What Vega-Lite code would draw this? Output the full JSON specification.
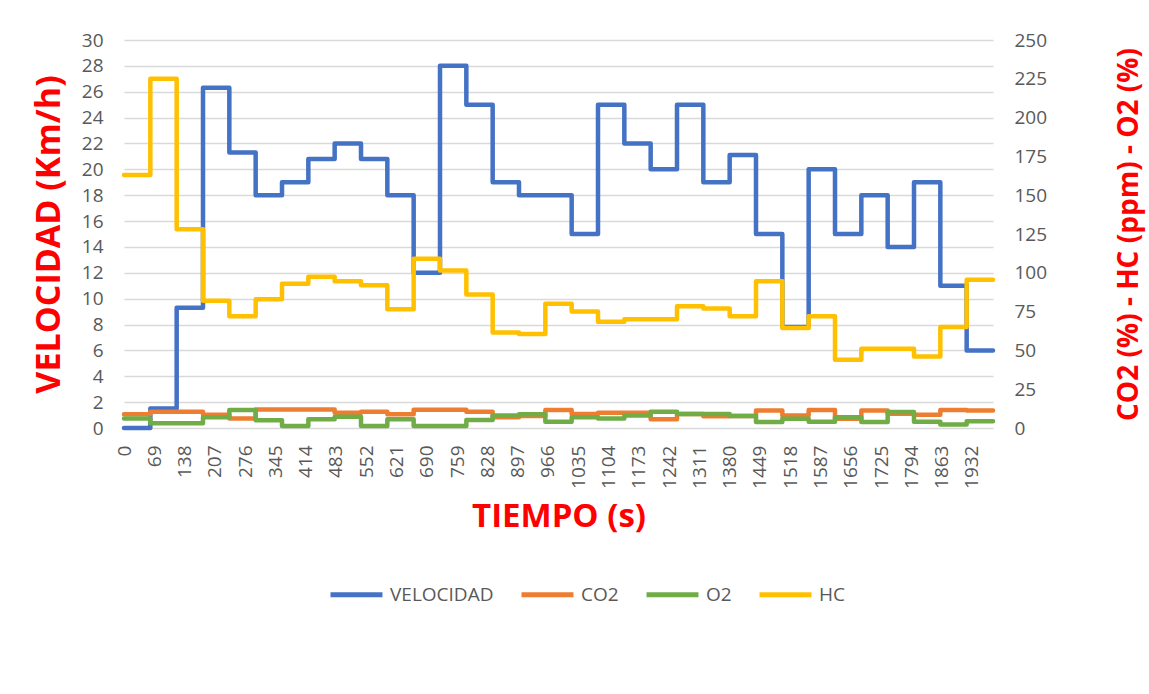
{
  "$schema": "https://vega.github.io/schema/vega-lite/v6.json",
  "width": 869,
  "height": 388,
  "autosize": "none",
  "padding": {"left": 124, "top": 40, "right": 156, "bottom": 266},
  "background": "white",
  "config": {
    "view": {"stroke": null},
    "font": "Open Sans",
    "axis": {"labelFont": "Open Sans", "labelColor": "#595959", "labelFontSize": 19, "titleFont": "Open Sans", "titleColor": "#FF0000", "titleFontWeight": "bold", "domain": false, "ticks": false, "tickSize": 0}
  },
  "data": {"values": [
    {"t": 0, "VELOCIDAD": 0, "CO2": 8.8, "O2": 6.2, "HC": 163},
    {"t": 60, "VELOCIDAD": 1.5, "CO2": 10.5, "O2": 3, "HC": 225},
    {"t": 120, "VELOCIDAD": 9.3, "CO2": 10.5, "O2": 3, "HC": 128},
    {"t": 180, "VELOCIDAD": 26.3, "CO2": 8.5, "O2": 7, "HC": 82},
    {"t": 240, "VELOCIDAD": 21.3, "CO2": 6.2, "O2": 11.6, "HC": 72},
    {"t": 300, "VELOCIDAD": 18, "CO2": 12, "O2": 5, "HC": 83},
    {"t": 360, "VELOCIDAD": 19, "CO2": 12, "O2": 1.3, "HC": 93},
    {"t": 420, "VELOCIDAD": 20.8, "CO2": 12, "O2": 5.6, "HC": 97.5},
    {"t": 480, "VELOCIDAD": 22, "CO2": 9.9, "O2": 7.3, "HC": 94.5},
    {"t": 540, "VELOCIDAD": 20.8, "CO2": 10.5, "O2": 1.3, "HC": 92},
    {"t": 600, "VELOCIDAD": 18, "CO2": 8.8, "O2": 5.6, "HC": 76.5},
    {"t": 660, "VELOCIDAD": 12, "CO2": 11.8, "O2": 1.3, "HC": 109},
    {"t": 720, "VELOCIDAD": 28, "CO2": 11.8, "O2": 1.3, "HC": 101.5},
    {"t": 780, "VELOCIDAD": 25, "CO2": 10.5, "O2": 5.2, "HC": 86},
    {"t": 840, "VELOCIDAD": 19, "CO2": 6.9, "O2": 8, "HC": 61.5},
    {"t": 900, "VELOCIDAD": 18, "CO2": 7.7, "O2": 8.8, "HC": 60.5},
    {"t": 960, "VELOCIDAD": 18, "CO2": 11.6, "O2": 4, "HC": 80},
    {"t": 1020, "VELOCIDAD": 15, "CO2": 9, "O2": 7, "HC": 75},
    {"t": 1080, "VELOCIDAD": 25, "CO2": 9.9, "O2": 6.2, "HC": 68.5},
    {"t": 1140, "VELOCIDAD": 22, "CO2": 9.9, "O2": 8, "HC": 70},
    {"t": 1200, "VELOCIDAD": 20, "CO2": 5.6, "O2": 10.5, "HC": 70},
    {"t": 1260, "VELOCIDAD": 25, "CO2": 9, "O2": 9, "HC": 78.5},
    {"t": 1320, "VELOCIDAD": 19, "CO2": 7.5, "O2": 9, "HC": 77},
    {"t": 1380, "VELOCIDAD": 21.1, "CO2": 7.7, "O2": 7.7, "HC": 72},
    {"t": 1440, "VELOCIDAD": 15, "CO2": 11.2, "O2": 3.8, "HC": 94.5},
    {"t": 1500, "VELOCIDAD": 7.8, "CO2": 8, "O2": 6, "HC": 64.5},
    {"t": 1560, "VELOCIDAD": 20, "CO2": 11.6, "O2": 4.1, "HC": 72},
    {"t": 1620, "VELOCIDAD": 15, "CO2": 6, "O2": 7, "HC": 44},
    {"t": 1680, "VELOCIDAD": 18, "CO2": 11.2, "O2": 3.8, "HC": 51},
    {"t": 1740, "VELOCIDAD": 14, "CO2": 9.2, "O2": 10.3, "HC": 51},
    {"t": 1800, "VELOCIDAD": 19, "CO2": 8.6, "O2": 4, "HC": 46},
    {"t": 1860, "VELOCIDAD": 11, "CO2": 11.6, "O2": 2.3, "HC": 65},
    {"t": 1920, "VELOCIDAD": 6, "CO2": 11.2, "O2": 4.3, "HC": 95.5},
    {"t": 1980, "VELOCIDAD": 6, "CO2": 11.2, "O2": 4.3, "HC": 95.5}
  ]},
  "transform": [{"fold": ["VELOCIDAD", "CO2", "O2", "HC"], "as": ["serie", "v"]}],
  "encoding": {
    "x": {
      "field": "t", "type": "quantitative",
      "scale": {"domain": [0, 1980], "nice": false, "zero": false},
      "axis": {
        "values": [0, 69, 138, 207, 276, 345, 414, 483, 552, 621, 690, 759, 828, 897, 966, 1035, 1104, 1173, 1242, 1311, 1380, 1449, 1518, 1587, 1656, 1725, 1794, 1863, 1932],
        "format": "d",
        "labelAngle": -90, "labelPadding": 17, "labelOverlap": false, "labelFlush": false, "grid": false,
        "title": "TIEMPO (s)", "titleFontSize": 33, "titlePadding": 12
      }
    },
    "color": {
      "field": "serie", "type": "nominal",
      "scale": {"domain": ["VELOCIDAD", "CO2", "O2", "HC"], "range": ["#4472C4", "#ED7D31", "#70AD47", "#FFC000"]},
      "legend": {
        "orient": "none", "legendX": 204, "legendY": 526, "direction": "horizontal", "title": null,
        "symbolType": "stroke", "symbolSize": 2700, "symbolStrokeWidth": 5,
        "labelFontSize": 19, "labelColor": "#595959", "labelFont": "Open Sans", "labelOffset": 5, "columnPadding": 17
      }
    }
  },
  "layer": [
    {
      "transform": [{"filter": "datum.serie === 'VELOCIDAD'"}],
      "mark": {"type": "line", "interpolate": "step-after", "strokeWidth": 4.5, "strokeJoin": "round", "strokeCap": "round"},
      "encoding": {
        "y": {
          "field": "v", "type": "quantitative",
          "scale": {"domain": [0, 30], "nice": false},
          "axis": {"values": [0, 2, 4, 6, 8, 10, 12, 14, 16, 18, 20, 22, 24, 26, 28, 30], "grid": true, "gridColor": "#d9d9d9", "gridWidth": 1.3, "labelPadding": 21, "title": "VELOCIDAD (Km/h)", "titleFontSize": 34, "titlePadding": 15}
        }
      }
    },
    {
      "encoding": {
        "y": {
          "field": "v", "type": "quantitative",
          "scale": {"domain": [0, 250], "nice": false},
          "axis": {"orient": "right", "values": [0, 25, 50, 75, 100, 125, 150, 175, 200, 225, 250], "grid": false, "labelPadding": 21, "title": "CO2 (%) - HC (ppm) - O2 (%)", "titleAngle": -90, "titleFontSize": 28, "titlePadding": 97}
        }
      },
      "layer": [
        {"transform": [{"filter": "datum.serie === 'CO2'"}], "mark": {"type": "line", "interpolate": "step-after", "strokeWidth": 4.5, "strokeJoin": "round", "strokeCap": "round"}},
        {"transform": [{"filter": "datum.serie === 'O2'"}], "mark": {"type": "line", "interpolate": "step-after", "strokeWidth": 4.5, "strokeJoin": "round", "strokeCap": "round"}},
        {"transform": [{"filter": "datum.serie === 'HC'"}], "mark": {"type": "line", "interpolate": "step-after", "strokeWidth": 4.5, "strokeJoin": "round", "strokeCap": "round"}}
      ]
    }
  ],
  "resolve": {"scale": {"y": "independent"}}
}
